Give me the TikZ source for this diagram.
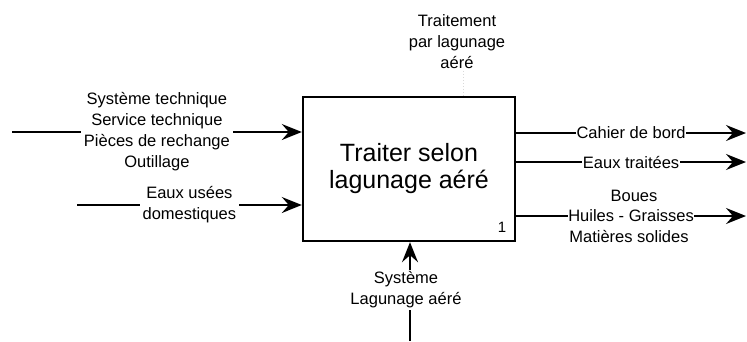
\documentclass[tikz,border=0pt]{standalone}
\usepackage{fontspec}
\setmainfont{Liberation Sans}
\usetikzlibrary{positioning,arrows.meta,calc}

\begin{document}
\begin{tikzpicture}[x=1pt, y=-1pt,
    flow/.style={line width=1.8pt, -{Stealth[length=20pt, width=16pt, inset=7pt]}},
    lbl/.style={fill=white, inner sep=1.5pt, align=center, font=\fontsize{16.5}{21}\selectfont}]
\useasboundingbox (0,0) rectangle (747,341);

% Activity box
\node[draw, line width=2.4pt, minimum width=212pt, minimum height=144pt,
      align=center, font=\fontsize{25}{27}\selectfont] (box) at (409,169)
      {Traiter selon\\lagunage aéré};
\node[font=\fontsize{15}{15}\selectfont] (num) at (502,227) {1};

% Control (top)
\node[lbl] (ctl) at (457,42) {Traitement\\par lagunage\\aéré};
\draw[black!15, line width=1pt, dotted] (ctl.south -| 463,0) -- (box.north -| 463,0);

% Inputs (left)
\coordinate (inA) at (12,132);
\coordinate (inB) at (77,205);
\draw[flow] (inA) -- (inA -| box.west)
    node[midway, lbl, inner sep=3pt] (inAtxt) {Système technique\\Service technique\\Pièces de rechange\\Outillage};
\draw[flow] (inB) -- (inB -| box.west)
    node[midway, lbl, inner sep=3pt] (inBtxt) {Eaux usées\\domestiques};

% Outputs (right)
\coordinate (outA) at (746,133);
\coordinate (outB) at (746,162);
\coordinate (outC) at (746,216);
\draw[flow] (outA -| box.east) -- (outA)
    node[midway, lbl, inner sep=0.5pt] (outAtxt) {Cahier de bord};
\draw[flow] (outB -| box.east) -- (outB)
    node[midway, lbl, inner sep=0.5pt] (outBtxt) {Eaux traitées};
\draw[flow] (outC -| box.east) -- (outC)
    node[midway, lbl, inner sep=0.5pt] (outCtxt) {Huiles - Graisses};
\node[lbl, fill=none] (boues) at (634,196) {Boues};
\node[lbl, fill=none] (matieres) at (629,236) {Matières solides};

% Mechanism (bottom)
\node[lbl] (mech) at (406,290) {Système\\Lagunage aéré};
\coordinate (mechIn) at (410,341);
\draw[line width=2pt] (mechIn) -- (mechIn |- mech.south);
\draw[flow] (mech.north -| mechIn) -- (box.south -| mechIn);
\end{tikzpicture}
\end{document}
